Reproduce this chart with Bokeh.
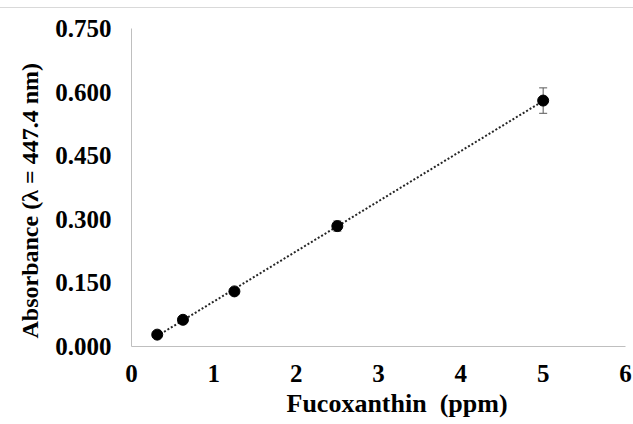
import numpy as np
from bokeh.plotting import figure
from bokeh.models import FixedTicker, PrintfTickFormatter, Whisker, ColumnDataSource, Title
from bokeh.embed import file_html
from bokeh.resources import INLINE

# data
x_ppm = [0.3125, 0.625, 1.25, 2.5, 5.0]
absorbance = [0.028, 0.063, 0.130, 0.284, 0.580]
abs_err = [0.003, 0.003, 0.005, 0.012, 0.030]
x_ticks = [0, 1, 2, 3, 4, 5, 6]
y_ticks = [0.0, 0.15, 0.30, 0.45, 0.60, 0.75]
x_title = "Fucoxanthin\u00a0 (ppm)"
y_title = "Absorbance (\u03bb = 447.4 nm)"

FONT = "Liberation Serif"

p = figure(width=633, height=424, output_backend="svg", toolbar_location=None,
           x_range=(0, 6), y_range=(0, 0.75),
           min_border_left=131, min_border_right=8, min_border_top=28, min_border_bottom=78)
p.outline_line_color = None
p.xgrid.visible = False
p.ygrid.visible = False
p.border_fill_color = None
p.background_fill_color = None
p.styles = {"background": "linear-gradient(to bottom, #ffffff 0px, #ffffff 7px, #d9d9d9 7px, "
                          "#d9d9d9 8px, #ffffff 8px, #ffffff 100%)"}

for ax in (p.xaxis[0], p.yaxis[0]):
    ax.axis_line_color = "#bfbfbf"
    ax.axis_line_width = 1
    ax.major_tick_line_color = None
    ax.minor_tick_line_color = None
    ax.major_tick_in = 0
    ax.major_tick_out = 0
    ax.major_label_text_font = FONT
    ax.major_label_text_font_style = "bold"
    ax.major_label_text_font_size = "25px"
    ax.major_label_text_color = "black"

p.xaxis.ticker = FixedTicker(ticks=x_ticks)
p.yaxis.ticker = FixedTicker(ticks=y_ticks)
p.yaxis.formatter = PrintfTickFormatter(format="%.3f")
p.xaxis.major_label_standoff = 18
p.yaxis.major_label_standoff = 20

# axis titles
p.add_layout(Title(text=x_title, align="left", offset=155, standoff=4,
                   text_font=FONT, text_font_style="bold", text_font_size="26px",
                   text_color="black"), "below")
p.add_layout(Title(text=y_title, align="left", offset=8, standoff=20,
                   text_font=FONT, text_font_style="bold", text_font_size="24px",
                   text_color="black"), "left")

# linear trendline
slope, intercept = np.polyfit(x_ppm, absorbance, 1)
tx = np.array([min(x_ppm), max(x_ppm)])
p.line(tx, slope * tx + intercept, line_color="#262626", line_width=2, line_dash="2 2")

src = ColumnDataSource(dict(x=x_ppm, y=absorbance,
                            lo=[a - e for a, e in zip(absorbance, abs_err)],
                            hi=[a + e for a, e in zip(absorbance, abs_err)]))
w = Whisker(base="x", lower="lo", upper="hi", source=src, line_color="#595959", line_width=1)
w.upper_head.size = 8
w.lower_head.size = 8
w.upper_head.line_color = "#595959"
w.lower_head.line_color = "#595959"
p.add_layout(w)

p.scatter("x", "y", source=src, size=11, fill_color="black", line_color="black")

open("out.html", "w").write(file_html(p, INLINE))
